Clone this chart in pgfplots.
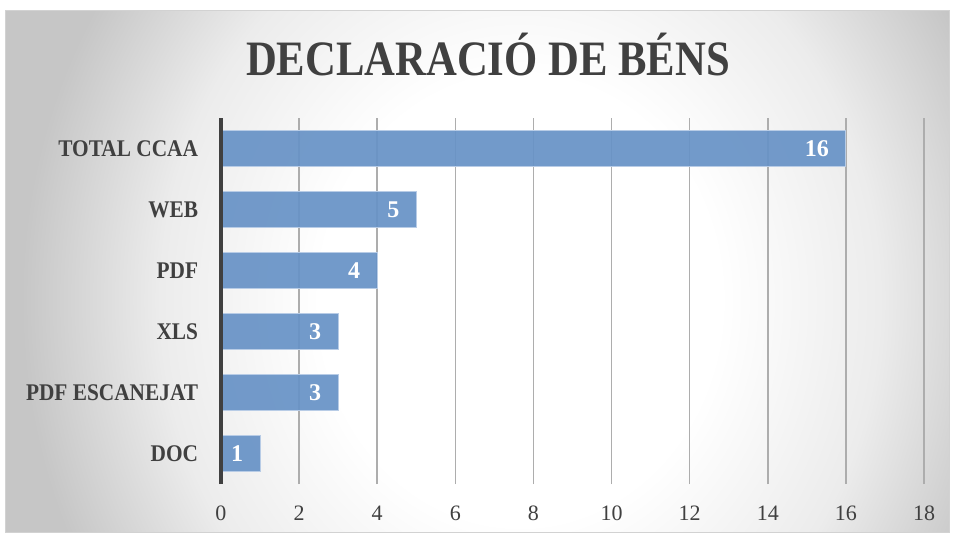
\documentclass[border=0pt]{standalone}
\usepackage{pgfplots}
\pgfplotsset{compat=1.18}
\usepackage{fontspec}
\setmainfont{Liberation Serif}
\usepackage{graphicx}

\definecolor{txt}{HTML}{404040}
\definecolor{barblue}{RGB}{103,146,198}
\definecolor{baredge}{RGB}{184,204,230}

\pgfdeclareradialshading{bg}{\pgfpoint{0bp}{0bp}}{%
  color(0bp)=(white); color(10bp)=(white); color(18bp)=(gray!15);
  color(25bp)=(gray!45); color(50bp)=(gray!45)}

\newcommand{\cat}[1]{\scalebox{1}[1.12]{#1}}

\begin{document}
\begin{tikzpicture}
\begin{scope}[x=0.75pt,y=-0.75pt]
  \fill[white] (0,0) rectangle (953,537);
  \begin{scope}
    \clip (5,10) rectangle (949,532);
    \fill[gray!45] (5,10) rectangle (949,532);
    \shade[shading=bg] (520,300) ellipse [x radius=500, y radius=560];
  \end{scope}
  \draw[gray!35, line width=0.6pt] (5,10) rectangle (949,532);
  \node[anchor=base, text=txt, inner sep=0pt,
        font=\fontsize{32}{36}\selectfont\bfseries]
    at (488,75) {\scalebox{1}[1.16]{DECLARACIÓ DE BÉNS}};
\end{scope}

\begin{axis}[
    at={(165.75pt,-363pt)}, anchor=south west,
    scale only axis,
    width=527.25pt, height=274.5pt,
    xbar, bar width=0.59,
    xmin=0, xmax=18,
    ymin=0.5, ymax=6.5,
    xtick={0,2,...,18},
    ytick={1,2,3,4,5,6},
    yticklabels={\cat{DOC},\cat{PDF ESCANEJAT},\cat{XLS},\cat{PDF},\cat{WEB},\cat{TOTAL CCAA}},
    major tick length=0pt,
    axis x line*=bottom,
    axis y line*=left,
    separate axis lines,
    x axis line style={draw=none},
    y axis line style={draw=none},
    xmajorgrids=true,
    grid style={black!32, line width=1.2pt},
    yticklabel style={font=\fontsize{16}{18}\selectfont\bfseries, text=txt,
                      inner sep=0pt, xshift=-17pt},
    xticklabel style={font=\fontsize{16.5}{18}\selectfont, text=txt,
                      inner sep=0pt, yshift=-16pt},
    /pgf/number format/assume math mode=true,
    nodes near coords,
    every node near coord/.append style={anchor=east, xshift=-9pt,
        text=white, text opacity=1,
        font=\fontsize{18}{20}\selectfont\bfseries},
    clip=false,
]
\addplot[fill=barblue, fill opacity=0.92, draw=baredge, line width=0.8pt]
  coordinates {(1,1) (3,2) (3,3) (4,4) (5,5) (16,6)};
\draw[black!75, line width=2.3pt] (axis cs:0,0.5) -- (axis cs:0,6.5);
\end{axis}
\end{tikzpicture}
\end{document}
